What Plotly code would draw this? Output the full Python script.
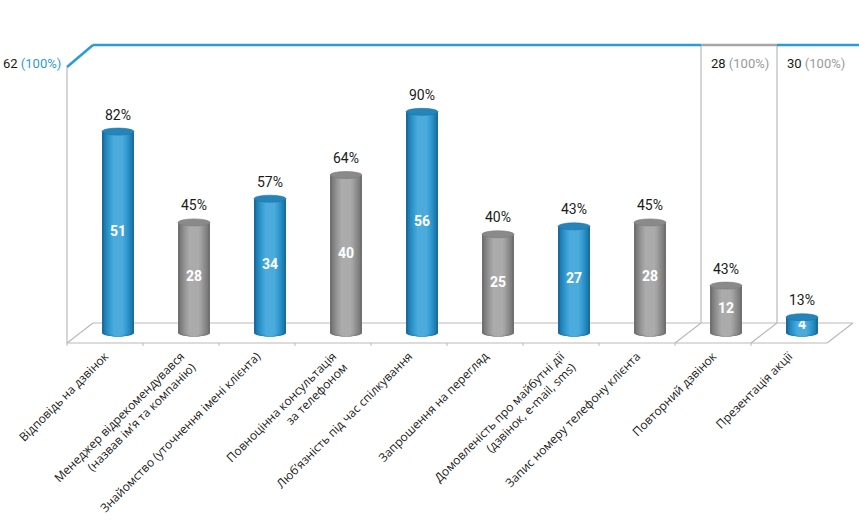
import plotly.graph_objects as go

# === Dati ===
categories = [
    "Відповідь на дзвінок",
    "Менеджер відрекомендувався<br>(назвав ім’я та компанію)",
    "Знайомство (уточнення імені клієнта)",
    "Повноцінна консультація<br>за телефоном",
    "Люб’язність під час спілкування",
    "Запрошення на перегляд",
    "Домовленість про майбутні дії<br>(дзвінок, e-mail, sms)",
    "Запис номеру телефону клієнта",
    "Повторний дзвінок",
    "Презентація акції",
]
values = [51, 28, 34, 40, 56, 25, 27, 28, 12, 4]
percents = [82, 45, 57, 64, 90, 40, 43, 45, 43, 13]
bar_kind = ["blue", "gray", "blue", "gray", "blue", "gray", "blue", "gray", "gray", "blue"]
section_totals = [62, 28, 30]
section_start = [0, 8, 9]

# === Stile ===
PX_X = 76.0     # pixel per categoria
PX_Y = 3.95     # pixel per unità
DXU = 13 / PX_X     # profondità 3D (metà) in unità x
DYU = 10 / PX_Y     # profondità 3D (metà) in unità y
BAR_W = 32 / PX_X
ELL_H = 3.5 / PX_Y
TOP_FRONT = (333 - 67) / PX_Y
TOP_BACK = (333 - 45) / PX_Y
X_MIN, X_MAX = -118 / PX_X, (859 - 118) / PX_X
Y_MIN, Y_MAX = -(346 - 333) / PX_Y, (333 - 30) / PX_Y

BLUE_LINE = "#2b9bd3"
GRAY_LINE = "#a6a6a6"
FLOOR = "#b9b9b9"

shades = {
    "blue": ["#1a6c9b", "#2080b5", "#288fc5", "#3399cf", "#40a3d7", "#4aabdc"],
    "gray": ["#707070", "#7f7f7f", "#8c8c8c", "#989898", "#a3a3a3", "#ababab"],
}
top_col = {"blue": "#2585bb", "gray": "#8a8a8a"}
edge_col = {"blue": "#1d72a3", "gray": "#787878"}

idx = list(range(len(values)))
N = len(shades["blue"])

fig = go.Figure()

# === Cilindri: strisce sovrapposte per la sfumatura ===
for k in range(N):
    f = 1 - 0.8 * k / N
    fig.add_trace(go.Bar(
        x=idx, y=values, width=[BAR_W * f] * len(idx),
        marker_color=[shades[c][k] for c in bar_kind],
        marker_line_width=0, hoverinfo="skip", showlegend=False,
    ))

shapes = []

def line(x0, y0, x1, y1, color, width, layer="below"):
    shapes.append(dict(type="line", xref="x", yref="y", x0=x0, y0=y0, x1=x1, y1=y1,
                       line=dict(color=color, width=width), layer=layer))

# pavimento
n = len(values)
line(-0.5 - DXU, -DYU, n - 0.5 - DXU, -DYU, FLOOR, 1.2)
line(-0.5 + DXU, DYU, n - 0.5 + DXU, DYU, FLOOR, 1.2)
line(-0.5 - DXU, -DYU, -0.5 + DXU, DYU, FLOOR, 1.2)
line(n - 0.5 - DXU, -DYU, n - 0.5 + DXU, DYU, FLOOR, 1.2)
for b in range(0, n):
    line(b - 0.5 - DXU, -DYU, b - 0.5 - DXU, -DYU - 3 / PX_Y, FLOOR, 1)
# parete sinistra
line(-0.5 - DXU, -DYU, -0.5 - DXU, TOP_FRONT, FLOOR, 1.2)
# separatori delle sezioni
for s in section_start[1:]:
    line(s - 0.5 - DXU, -DYU, s - 0.5 + DXU, DYU, FLOOR, 1.2)
    line(s - 0.5 + DXU, DYU, s - 0.5 + DXU, TOP_BACK, FLOOR, 1.2)

# linea superiore
line(-0.5 - DXU, TOP_FRONT, -0.5 + DXU, TOP_BACK, BLUE_LINE, 2.5, "above")
line(-0.5 + DXU, TOP_BACK, section_start[1] - 0.5 + DXU, TOP_BACK, BLUE_LINE, 2.5, "above")
line(section_start[1] - 0.5 + DXU, TOP_BACK, section_start[2] - 0.5 + DXU, TOP_BACK, GRAY_LINE, 2.5, "above")
line(section_start[2] - 0.5 + DXU, TOP_BACK, X_MAX, TOP_BACK, BLUE_LINE, 2.5, "above")

# basi ellittiche (sfumate) e coperchi
for i, v, c in zip(idx, values, bar_kind):
    for k in range(N):
        w = BAR_W * (1 - 0.8 * k / N) / 2
        shapes.append(dict(type="circle", xref="x", yref="y", layer="below",
                           x0=i - w, x1=i + w, y0=-ELL_H, y1=ELL_H,
                           fillcolor=shades[c][k], line_width=0))
    shapes.append(dict(type="circle", xref="x", yref="y", layer="above",
                       x0=i - BAR_W / 2, x1=i + BAR_W / 2, y0=v - ELL_H, y1=v + ELL_H,
                       fillcolor=top_col[c], line=dict(color=edge_col[c], width=0.6)))

# === Etichette ===
fig.add_trace(go.Scatter(
    x=idx, y=[v / 2 for v in values], mode="text", text=[str(v) for v in values],
    textfont=dict(family="Roboto", size=14, color="white", weight="bold"),
    hoverinfo="skip", showlegend=False,
))

annotations = []
for i, v, p in zip(idx, values, percents):
    annotations.append(dict(x=i, y=v, xref="x", yref="y", text=f"{p}%", showarrow=False,
                            yshift=17, font=dict(family="Roboto", size=14, color="#1a1a1a")))

paren_col = [BLUE_LINE, "#9a9a9a", "#9a9a9a"]
for k, (tot, s) in enumerate(zip(section_totals, section_start)):
    txt = f"{tot} <span style='color:{paren_col[k]}'>(100%)</span>"
    if k == 0:
        annotations.append(dict(x=-0.5 - DXU, y=TOP_FRONT, xref="x", yref="y", text=txt,
                                showarrow=False, xanchor="right", xshift=-4, yshift=4,
                                font=dict(family="Roboto", size=13, color="#1a1a1a")))
    else:
        annotations.append(dict(x=s - 0.5 + DXU, y=TOP_FRONT, xref="x", yref="y", text=txt,
                                showarrow=False, xanchor="left", xshift=8, yshift=4,
                                font=dict(family="Roboto", size=13, color="#1a1a1a")))

fig.update_layout(
    width=859, height=530,
    margin=dict(l=0, r=0, t=30, b=530 - 346),
    barmode="overlay",
    plot_bgcolor="white", paper_bgcolor="white",
    shapes=shapes, annotations=annotations,
    showlegend=False,
)
fig.update_xaxes(
    range=[X_MIN, X_MAX], tickmode="array",
    tickvals=[i - DXU for i in idx], ticktext=categories,
    tickangle=-45, showgrid=False, zeroline=False, showline=False, ticks="",
    automargin=False,
    tickfont=dict(family="Open Sans", size=12, color="#1a1a1a"),
)
fig.update_yaxes(range=[Y_MIN, Y_MAX], visible=False)

# il body della pagina ha un margine di 8px di default
fig.write_html("out.html", config={"displayModeBar": False},
               post_script="document.body.style.margin='0';")
